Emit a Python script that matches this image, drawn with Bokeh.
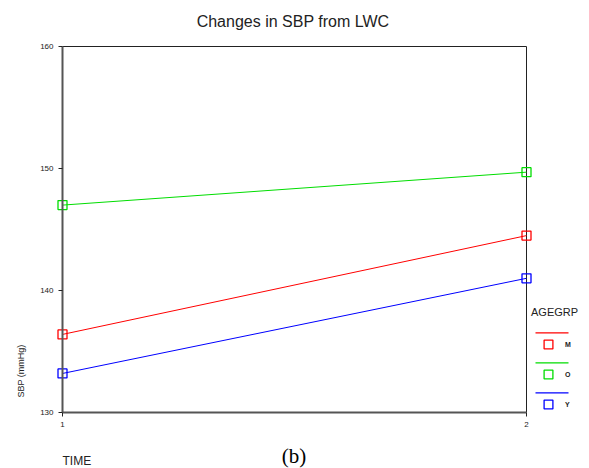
from bokeh.plotting import figure
from bokeh.models import Range1d, Label, Legend, LegendItem, FixedTicker
from bokeh.embed import file_html
from bokeh.resources import INLINE
import math

# Mean systolic blood pressure by age group at two time points
times = [1, 2]
groups = ["M", "O", "Y"]
sbp_m = [136.4, 144.5]
sbp_o = [147.0, 149.7]
sbp_y = [133.2, 141.0]
colors = {"M": "#ff0000", "O": "#00dd00", "Y": "#0000ff"}
y_ticks = [130, 140, 150, 160]
x_lo, x_hi = 1, 2
y_lo, y_hi = 130, 160

W, H = 589, 468
# plot box position on the page (pixels)
BOX_L, BOX_R, BOX_T, BOX_B = 62, 526, 46, 412

# The drawing area fills the whole page so nothing near the box is clipped;
# the ranges are widened so the data box lands at BOX_* on the page.
sx = (BOX_R - BOX_L) / (x_hi - x_lo)
sy = (BOX_B - BOX_T) / (y_hi - y_lo)
x_range = Range1d(x_lo - BOX_L / sx, x_hi + (W - BOX_R) / sx)
y_range = Range1d(y_lo - (H - BOX_B) / sy, y_hi + BOX_T / sy)


def page_x(px):
    return x_lo + (px - BOX_L) / sx


def page_y(py):
    return y_lo + (BOX_B - py) / sy


p = figure(width=W, height=H, output_backend="svg", toolbar_location=None,
           x_range=x_range, y_range=y_range,
           min_border=0, min_border_left=0, min_border_right=0,
           min_border_top=0, min_border_bottom=0)
p.background_fill_color = "white"
p.border_fill_color = "white"
p.outline_line_color = None
p.grid.visible = False

font = "Liberation Sans"
p.xaxis.fixed_location = y_lo
p.yaxis.fixed_location = x_lo
p.xaxis.bounds = (x_lo, x_hi)
p.yaxis.bounds = (y_lo, y_hi)
for ax in (p.xaxis[0], p.yaxis[0]):
    ax.axis_line_color = "#555555"
    ax.axis_line_width = 2
    ax.major_tick_line_color = "#222222"
    ax.major_tick_out = 4
    ax.major_tick_in = 0
    ax.minor_tick_line_color = None
    ax.major_label_text_font = font
    ax.major_label_text_font_size = "8px"
    ax.major_label_text_color = "#222222"
p.xaxis.ticker = FixedTicker(ticks=times)
p.yaxis.ticker = FixedTicker(ticks=y_ticks)
p.xaxis.major_label_standoff = 5
p.yaxis.major_label_standoff = 5

# top and right edges of the plot box
p.segment(x0=[x_lo, x_hi], y0=[y_hi, y_lo], x1=[x_hi, x_hi], y1=[y_hi, y_hi],
          line_color="#222222", line_width=1)

series = {"M": sbp_m, "O": sbp_o, "Y": sbp_y}
marker_items = []
for g in groups:
    p.line(times, series[g], line_color=colors[g], line_width=1)
    mk = p.scatter(times, series[g], marker="square", size=9,
                   line_color=colors[g], line_width=1.3, fill_color=None)
    marker_items.append(LegendItem(label=g, renderers=[mk]))

# key lines drawn above each legend entry (page rows 30 px apart)
key_rows = [332.3 + 30 * i for i in range(len(groups))]
p.segment(x0=[page_x(535)] * len(groups), x1=[page_x(568)] * len(groups),
          y0=[page_y(r) for r in key_rows], y1=[page_y(r) for r in key_rows],
          line_color=[colors[g] for g in groups], line_width=1.3)

legend = Legend(items=marker_items, location=(531, H - 415),
                title="AGEGRP", title_text_font=font,
                title_text_font_size="11px", title_text_font_style="normal",
                title_text_color="#222222", title_standoff=15,
                glyph_width=34, glyph_height=22, spacing=8,
                label_standoff=0, padding=0, margin=0,
                border_line_color=None, background_fill_color=None,
                label_text_font=font, label_text_font_size="7px",
                label_text_font_style="bold", label_text_color="#222222")
p.add_layout(legend, "center")


def page_label(text, px, py, **kw):
    # px/py are page pixels from the top-left corner
    return Label(x=px, y=H - py, x_units="screen", y_units="screen",
                 text=text, **kw)


p.add_layout(page_label("Changes in SBP from LWC", 292.5, 21,
                        text_font=font, text_font_size="16px",
                        text_color="#222222", text_align="center",
                        text_baseline="alphabetic"))
p.add_layout(page_label("SBP (mmHg)", 20, 397, angle=math.pi / 2,
                        text_font=font, text_font_size="9px",
                        text_color="#222222", text_align="left",
                        text_baseline="middle"))
p.add_layout(page_label("TIME", 62, 460,
                        text_font=font, text_font_size="12px",
                        text_color="#222222", text_align="left",
                        text_baseline="alphabetic"))
p.add_layout(page_label("(b)", 293.5, 455,
                        text_font="Liberation Serif", text_font_size="21px",
                        text_color="#000000", text_align="center",
                        text_baseline="middle"))

open("out.html", "w").write(file_html(p, INLINE))
